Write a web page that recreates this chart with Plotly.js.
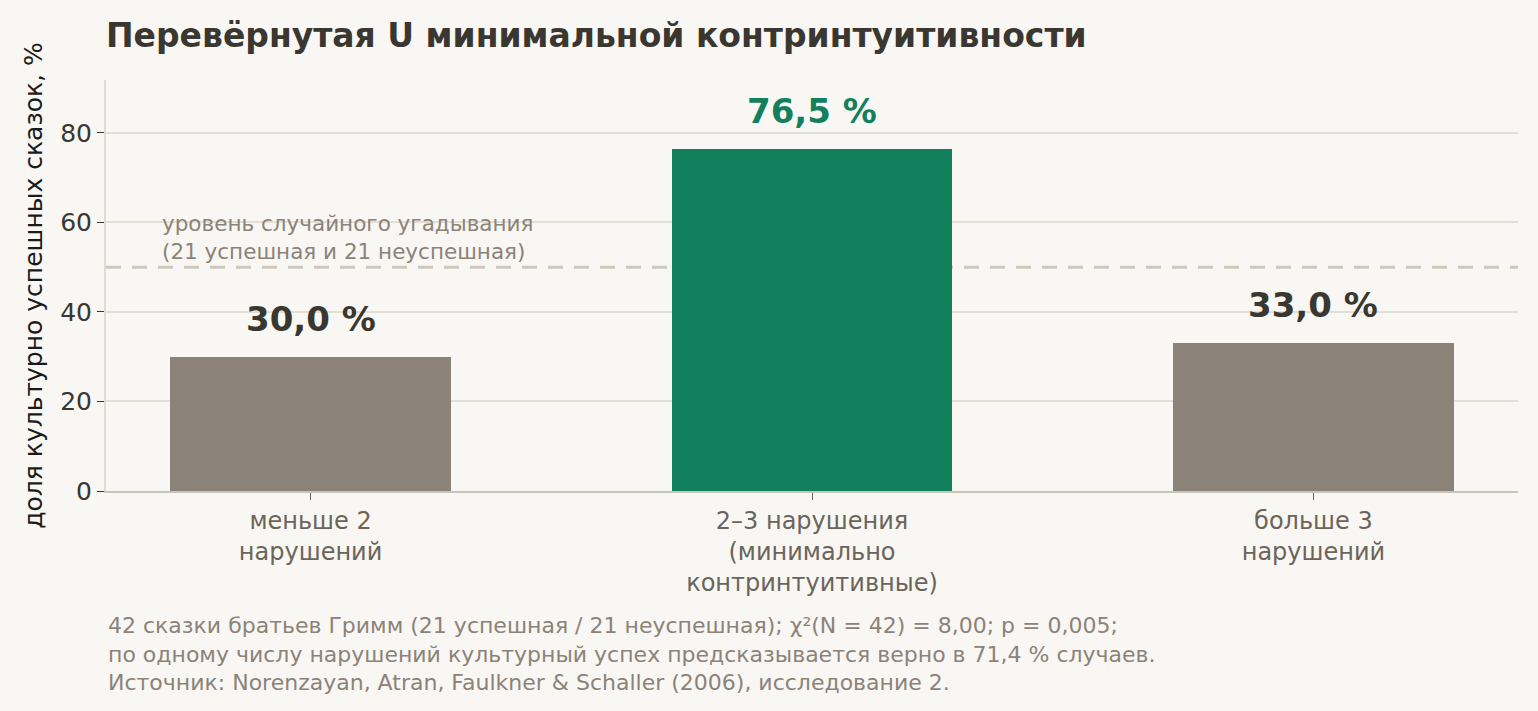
<!DOCTYPE html>
<html>
<head>
<meta charset="utf-8">
<script src="https://cdn.plot.ly/plotly-3.0.1.min.js"></script>
<style>
  html, body { margin: 0; padding: 0; background: #f9f7f3; }
  #chart { width: 1538px; height: 711px; }
</style>
</head>
<body>
<div id="chart"></div>
<script>
var categories = ["меньше 2<br>нарушений", "2–3 нарушения<br>(минимально<br>контринтуитивные)", "больше 3<br>нарушений"];
var shares = [30.0, 76.5, 33.0];
var barColors = ["#8b8378", "#12805c", "#8b8378"];
var labelColors = ["#3a3630", "#12805c", "#3a3630"];
var chanceLevel = 50;
var yTicks = [0, 20, 40, 60, 80];

var fmt = function (v) { return v.toFixed(1).replace(".", ",") + " %"; };

var data = [
  {
    type: "bar",
    x: [0, 1, 2],
    y: shares,
    width: 0.56,
    marker: { color: barColors },
    hoverinfo: "skip",
  },
];

var annotations = shares.map(function (v, i) {
  return {
    x: i, y: v, xref: "x", yref: "y",
    text: "<b>" + fmt(v) + "</b>",
    showarrow: false, yanchor: "bottom", yshift: 16,
    font: { size: 34, color: labelColors[i] },
  };
});

annotations.push({
  x: -0.3, y: chanceLevel, xref: "x", yref: "y",
  text: "уровень случайного угадывания<br>(21 успешная и 21 неуспешная)",
  showarrow: false, xanchor: "left", yanchor: "bottom", yshift: 1, align: "left",
  font: { size: 21.5, color: "#8b8378" },
});

annotations.push({
  x: 0, y: 0, xref: "paper", yref: "paper",
  xanchor: "left", yanchor: "top", yshift: -120, align: "left",
  text: "42 сказки братьев Гримм (21 успешная / 21 неуспешная); χ²(N = 42) = 8,00; p = 0,005;<br>" +
        "по одному числу нарушений культурный успех предсказывается верно в 71,4 % случаев.<br>" +
        "Источник: Norenzayan, Atran, Faulkner &amp; Schaller (2006), исследование 2.",
  showarrow: false,
  font: { size: 22, color: "#8b8378" },
});

var layout = {
  width: 1538,
  height: 711,
  margin: { t: 80, r: 20, l: 106, b: 220 },
  paper_bgcolor: "#f9f7f3",
  plot_bgcolor: "#f9f7f3",
  font: { family: "DejaVu Sans", color: "#3a3630" },
  showlegend: false,
  bargap: 0,
  title: {
    text: "<b>Перевёрнутая U минимальной контринтуитивности</b>",
    x: 0, xref: "paper", xanchor: "left",
    y: 0.95, yanchor: "middle",
    font: { size: 33, color: "#3a3630" },
  },
  xaxis: {
    range: [-0.408, 2.408],
    tickvals: [0, 1, 2],
    ticktext: categories,
    ticks: "outside", ticklen: 7, tickcolor: "#6b645a",
    tickfont: { size: 24, color: "#6b645a" },
    showline: true, linecolor: "#c8c4b8", linewidth: 2,
    showgrid: false, zeroline: false,
  },
  yaxis: {
    range: [0, 91.8],
    tickvals: yTicks,
    ticks: "outside", ticklen: 7, tickcolor: "#3a3630",
    tickfont: { size: 25, color: "#3a3630" },
    showline: true, linecolor: "#e0dcd3", linewidth: 2,
    gridcolor: "#e3dfd6", gridwidth: 2, zeroline: false,
    title: { text: "доля культурно успешных сказок, %", standoff: 10, font: { size: 25, color: "#1a1a1a" } },
  },
  shapes: [
    {
      type: "line", layer: "below", xref: "paper", x0: 0, x1: 1, yref: "y", y0: chanceLevel, y1: chanceLevel,
      line: { color: "#cdc8bc", width: 3, dash: "15px,11px" },
    },
  ],
  annotations: annotations,
};

Plotly.newPlot("chart", data, layout, { displayModeBar: false });
</script>
</body>
</html>
